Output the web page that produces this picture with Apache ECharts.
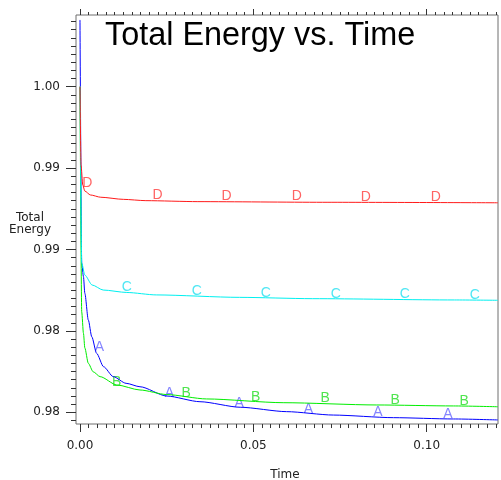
<!DOCTYPE html>
<html><head><meta charset="utf-8">
<script src="https://cdn.jsdelivr.net/npm/echarts@6/dist/echarts.min.js"></script>
<style>html,body{margin:0;padding:0;background:#fff}#c{width:501px;height:480px}</style>
</head><body><div id="c"></div>
<script>
// ---- data ----
const timeA = [0, 0.0005, 0.0010, 0.0014, 0.0024, 0.0034, 0.0048, 0.0068, 0.0096, 0.0133, 0.0173, 0.0250, 0.0346, 0.0462, 0.0596, 0.0731, 0.0904, 0.1077, 0.1205];
const energyA = [1.0041, 0.98915, 0.98833, 0.98731, 0.98567, 0.98464, 0.98362, 0.98280, 0.98219, 0.98178, 0.98157, 0.98100, 0.98065, 0.98031, 0.98004, 0.97983, 0.97967, 0.97959, 0.97953];
const timeB = [0, 0.0005, 0.0010, 0.0014, 0.0024, 0.0038, 0.0058, 0.0106, 0.0173, 0.0250, 0.0365, 0.0586, 0.0856, 0.1077, 0.1205];
const energyB = [1.0, 0.98616, 0.98485, 0.98395, 0.98301, 0.98249, 0.98219, 0.98168, 0.98137, 0.98109, 0.98082, 0.98059, 0.98045, 0.98039, 0.98034];
const timeC = [0, 0.0005, 0.0014, 0.0035, 0.0067, 0.0135, 0.022, 0.046, 0.067, 0.108, 0.1205];
const energyC = [1.0, 0.98917, 0.98843, 0.98782, 0.98751, 0.98736, 0.98721, 0.98706, 0.98698, 0.98690, 0.98688];
const timeD = [0, 0.0003, 0.0008, 0.0014, 0.003, 0.006, 0.0125, 0.019, 0.034, 0.07, 0.1205];
const energyD = [1.0, 0.99519, 0.99396, 0.99359, 0.99335, 0.99321, 0.99308, 0.99300, 0.99294, 0.99290, 0.99287];

// letter markers along each curve
const markTimeA = [0.0056, 0.0258, 0.0459, 0.0659, 0.0859, 0.1061];
const markEnergyA = [0.98370, 0.98088, 0.98023, 0.97986, 0.97971, 0.97955];
const markTimeB = [0.0106, 0.0306, 0.0507, 0.0707, 0.0909, 0.1108];
const markEnergyB = [0.98157, 0.98090, 0.98065, 0.98055, 0.98045, 0.98039];
const markTimeC = [0.0135, 0.0337, 0.0536, 0.0738, 0.0937, 0.1139];
const markEnergyC = [0.98741, 0.98716, 0.98704, 0.98696, 0.98696, 0.98690];
const markTimeD = [0.0021, 0.0224, 0.0423, 0.0625, 0.0824, 0.1026];
const markEnergyD = [0.99378, 0.99302, 0.99296, 0.99296, 0.99288, 0.99288];

const xTickLabels = ['0.00', '0.05', '0.10'];
const yTickLabels = ['0.98', '0.98', '0.99', '0.99', '1.00'];

// ---- chart ----
const zip = (a, b) => a.map((v, i) => [v, b[i]]);
const FONT = 'DejaVu Sans';
const TICK = '#333333';

const xMajorStep = 0.05, yMajorStep = 0.005, yMajorMin = 0.98;

function tickAxisX(grid, pos, min, max, step, len, offset, labels) {
  return {
    type: 'value', gridIndex: grid, position: pos, min: min, max: max, interval: step, offset: offset,
    axisLine: {show: true, onZero: false, lineStyle: {color: 'rgba(0,0,0,0)'}}, splitLine: {show: false},
    axisTick: {show: true, inside: false, length: len, lineStyle: {color: TICK, width: 1}},
    axisLabel: labels ? {show: true, margin: 16, color: '#222', fontFamily: FONT, fontSize: 12,
      formatter: v => xTickLabels[Math.round(v / xMajorStep)] || ''} : {show: false}
  };
}
function tickAxisY(grid, min, max, step, len, offset, labels) {
  return {
    type: 'value', gridIndex: grid, position: 'left', min: min, max: max, interval: step, offset: offset,
    axisLine: {show: true, onZero: false, lineStyle: {color: 'rgba(0,0,0,0)'}}, splitLine: {show: false},
    axisTick: {show: true, inside: false, length: len, lineStyle: {color: TICK, width: 1}},
    axisLabel: labels ? {show: true, margin: 16, color: '#222', fontFamily: FONT, fontSize: 12,
      formatter: v => yTickLabels[Math.round((v - yMajorMin) / yMajorStep)] || ''} : {show: false}
  };
}

function curve(name, t, e, color) {
  return {
    type: 'line', name: name, xAxisIndex: 0, yAxisIndex: 0, data: zip(t, e),
    showSymbol: false, symbol: 'none', smooth: 0.25, smoothMonotone: 'x',
    lineStyle: {color: color, width: 1}, silent: true
  };
}
function letters(name, t, e, color) {
  return {
    type: 'scatter', name: name + '_mk', xAxisIndex: 0, yAxisIndex: 0, data: zip(t, e),
    symbol: 'circle', symbolSize: 1, itemStyle: {color: 'rgba(0,0,0,0)'}, silent: true,
    label: {show: true, position: 'inside', offset: [0, -5], formatter: name,
      color: color, fontFamily: 'Liberation Sans', fontSize: 14}
  };
}

const chart = echarts.init(document.getElementById('c'), null, {renderer: 'canvas'});
chart.setOption({
  animation: false,
  backgroundColor: '#ffffff',
  title: [
    {text: 'Total Energy vs. Time', left: 105, top: 20, padding: 0,
      textStyle: {fontFamily: 'Liberation Sans', fontSize: 32.4, fontWeight: 'normal', color: '#000'}},
    {text: 'Total\nEnergy', left: 30, top: 212, padding: 0, textAlign: 'center',
      textStyle: {fontFamily: FONT, fontSize: 12, fontWeight: 'normal', color: '#222', lineHeight: 12, align: 'center'}},
    {text: 'Time', left: 285, top: 469, padding: 0, textAlign: 'center',
      textStyle: {fontFamily: FONT, fontSize: 12, fontWeight: 'normal', color: '#222'}}
  ],
  grid: [
    {left: 76, top: 15, width: 422, height: 409, show: true, borderColor: '#6e6e6e', borderWidth: 1,
      backgroundColor: 'rgba(0,0,0,0)', outerBoundsMode: 'none', containLabel: false},
    {left: 80, top: 86.7, width: 346.7, height: 325.6, outerBoundsMode: 'none', containLabel: false},
    {left: 80, top: 21.58, width: 416.04, height: 398.86, outerBoundsMode: 'none', containLabel: false}
  ],
  xAxis: [
    {type: 'value', gridIndex: 0, min: -0.00115, max: 0.12056, show: false},
    tickAxisX(1, 'bottom', 0, 0.10, 0.05, 8, 11.7, true),
    tickAxisX(1, 'top', 0, 0.10, 0.05, 6, 71.7, false),
    tickAxisX(2, 'bottom', 0, 0.12, 0.0025, 4, 3.6, false),
    tickAxisX(2, 'top', 0, 0.12, 0.0025, 3, 6.58, false)
  ],
  yAxis: [
    {type: 'value', gridIndex: 0, min: 0.979281, max: 1.004404, show: false},
    tickAxisY(1, 0.98, 1.0, 0.005, 10, 4, true),
    tickAxisY(2, 0.9795, 1.004, 0.0005, 5, 4, false)
  ],
  series: [
    curve('A', timeA, energyA, '#0000ff'),
    curve('B', timeB, energyB, '#00ee00'),
    curve('C', timeC, energyC, '#00f0f0'),
    curve('D', timeD, energyD, '#ff1a1a'),
    letters('A', markTimeA, markEnergyA, '#6666ff'),
    letters('B', markTimeB, markEnergyB, '#22dd22'),
    letters('C', markTimeC, markEnergyC, '#22e0f0'),
    letters('D', markTimeD, markEnergyD, '#ff3c3c')
  ]
});
</script></body></html>
